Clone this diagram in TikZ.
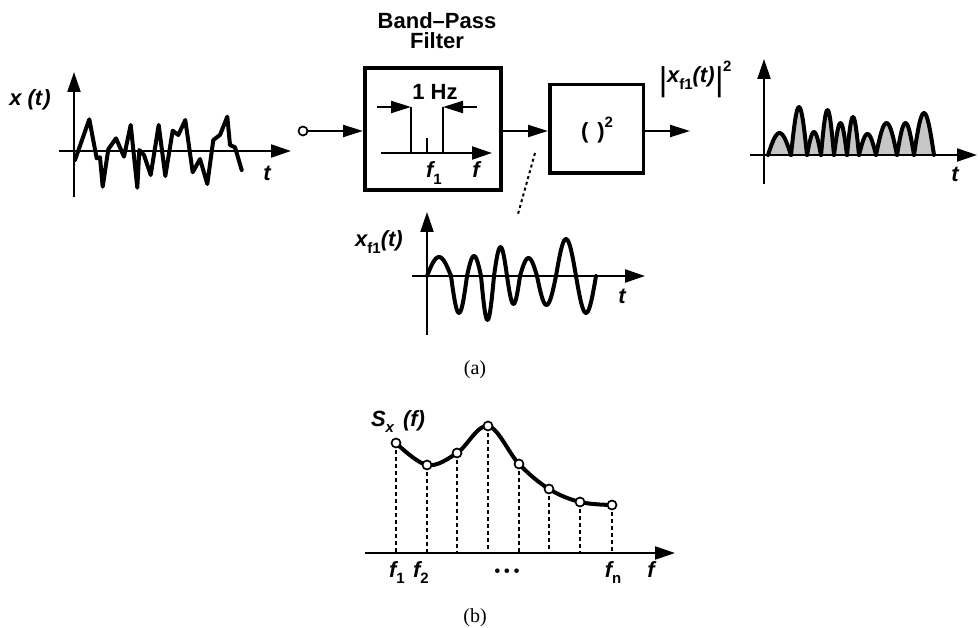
\documentclass[tikz,border=0pt]{standalone}
\usepackage{fontspec}
\setmainfont{Liberation Serif}
\setsansfont{Liberation Sans}
\usetikzlibrary{arrows.meta}
\newcommand\mysub[1]{\raisebox{-0.28em}{\fontsize{15}{15}\selectfont\upshape #1}}
\newcommand\mysup[1]{\raisebox{0.5em}{\fontsize{15}{15}\selectfont\upshape #1}}
\newcommand\mybar{\raisebox{-8pt}{\mdseries\fontsize{33}{33}\selectfont|}}
\begin{document}
\begin{tikzpicture}[x=1pt,y=-1pt,
  lbl/.style={font=\sffamily\bfseries\fontsize{22}{24}\selectfont, inner sep=0pt},
  ilbl/.style={inner sep=0pt, font=\sffamily\bfseries\itshape\fontsize{22}{24}\selectfont},
  capt/.style={font=\fontsize{20}{22}\selectfont, inner sep=0pt},
  wave/.style={line width=4pt, line join=round, line cap=round},
  axisline/.style={line width=2.2pt, -{Triangle[length=20pt,width=13pt]}},
  conn/.style={line width=2.2pt, -{Triangle[length=20pt,width=12pt]}},
  blk/.style={draw, inner sep=0pt},
  guide/.style={line width=1.7pt, dash pattern=on 4pt off 3pt},
  tap/.style={line width=2pt, dash pattern=on 3pt off 3pt},
  dot/.style={circle, draw, fill=white, line width=1.7pt, minimum size=9pt, inner sep=0pt}]
\useasboundingbox (0,0) rectangle (979,628);

% ---------- blocks ----------
\node[blk, line width=4pt, minimum width=136pt, minimum height=122pt] (bpf) at (433,129) {};
\node[blk, line width=3.5pt, minimum width=93.5pt, minimum height=88.5pt] (sq) at (596.5,129) {};
\node[lbl, align=center, anchor=north, font=\sffamily\bfseries\fontsize{22}{20}\selectfont] (title) at (437,12) {Band–Pass\\Filter};
\node[lbl, anchor=base] (sqtxt) at (597,139) {(\hspace{9pt})\mysup{2}};

\node[dot] (in) at (303,131) {};
\draw[conn] (in) -- (in -| bpf.west);
\draw[conn] (bpf.east |- in) -- (sq.west |- in);
\coordinate (outend) at (690,131);
\draw[conn] (sq.east |- in) -- (outend);
\node[ilbl, anchor=base] (outlbl) at (695,83) {\mybar x\mysub{f1}(t)\mybar\mysup{2}};

% filter inner sketch
\coordinate (la) at (377,107); \coordinate (lb) at (411,107);
\coordinate (ra) at (477,107); \coordinate (rb) at (443,107);
\coordinate (lbot) at (411,153); \coordinate (rbot) at (443,153);
\coordinate (tk0) at (427,138); \coordinate (tk1) at (427,153);
\coordinate (fa0) at (381,153); \coordinate (fa1) at (492,153);
\draw[conn] (la) -- (lb);
\draw[conn] (ra) -- (rb);
\draw[line width=2.2pt] (lb) -- (lbot) (rb) -- (rbot) (tk0) -- (tk1);
\draw[axisline] (fa0) -- (fa1);
\node[lbl] (hz) at (435,91.5) {1 Hz};
\node[ilbl, anchor=base] (f1a) at (434,178) {f\mysub{1}};
\node[ilbl, anchor=base] (fa) at (476,178) {f};

% tap dotted line
\coordinate (tapA) at (535,153); \coordinate (tapB) at (518,214);
\draw[tap] (tapA) -- (tapB);

% ---------- x(t) ----------
\coordinate (xv0) at (74,197); \coordinate (xv1) at (74,72);
\coordinate (xh0) at (59,151); \coordinate (xh1) at (291,151);
\draw[axisline] (xv0) -- (xv1);
\draw[axisline] (xh0) -- (xh1);
\draw[wave] plot coordinates {(75,160) (89.3,119.3) (96.7,158.3) (100,157.3) (102.7,186.7) (108.3,149.3) (116,138.3) (124,156.7) (130.7,125) (137.3,187.7) (139.3,150) (144,155) (150.7,175) (158.7,125) (165.3,176) (172.7,130.7) (178.3,135) (185.3,120) (192.7,172.3) (200,159) (207.3,184) (213.3,140) (220,135) (227.3,116.7) (230,145) (235,147.3) (241.7,170)};
\node[ilbl] (xlbl) at (30,100) {x\hspace{6pt}(t\hspace{1pt})};
\node[ilbl] (xt) at (267,173) {t};

% ---------- x_f1(t) ----------
\coordinate (mv0) at (427,335); \coordinate (mv1) at (427,212);
\coordinate (mh0) at (412,276); \coordinate (mh1) at (645,276);
\draw[axisline] (mv0) -- (mv1);
\draw[axisline] (mh0) -- (mh1);
\foreach \a/\b/\h in {427/451/19, 451/467/-37, 467/481/20, 481/494/-44, 494/507/29, 507/520/-28, 520/537/18, 537/556/-29, 556/576/37, 576/596/-37}
  \draw[wave] plot[domain=0:1, samples=18] ({\a+(\b-\a)*\x},{276-\h*sin(180*\x)});
\node[ilbl, anchor=base] (mlbl) at (379,247) {x\mysub{f1}(t)};
\node[ilbl, anchor=base] (mt) at (622,303) {t};

% ---------- |x_f1|^2 ----------
\coordinate (rv0) at (764,184); \coordinate (rv1) at (764,59);
\coordinate (rh0) at (750,155); \coordinate (rh1) at (977,155);
\foreach \a/\b/\h in {768/791/22, 791/807/48, 807/821/23, 821/834/45, 834/847/32, 847/859/38, 859/876/21, 876/897/32, 897/914/32, 914/934/42} {
  \fill[gray!45] plot[domain=0:1, samples=20] ({\a+(\b-\a)*\x},{155-\h*sin(180*\x)}) -- cycle;
  \draw[wave] plot[domain=0:1, samples=20] ({\a+(\b-\a)*\x},{155-\h*sin(180*\x)});
}
\draw[axisline] (rv0) -- (rv1);
\draw[axisline] (rh0) -- (rh1);
\node[ilbl, anchor=base] (rt) at (955,182) {t};

\node[capt] (capa) at (475,370) {(a)};

% ---------- (b) ----------
\coordinate (bh0) at (365,553); \coordinate (bh1) at (675,553);
\coordinate (c1) at (396,443); \coordinate (c2) at (427,465);
\coordinate (c3) at (457,453); \coordinate (c4) at (488,426);
\coordinate (c5) at (519,464); \coordinate (c6) at (549,489);
\coordinate (c7) at (580,502); \coordinate (c8) at (612,505);
\draw[wave] plot[smooth, tension=0.6] coordinates {(c1) (c2) (c3) (c4) (c5) (c6) (c7) (c8)};
\foreach \i in {1,...,8} \draw[guide] (c\i) -- (c\i |- bh0);
\draw[axisline] (bh0) -- (bh1);
\foreach \i in {1,...,8} \node[dot] (d\i) at (c\i) {};
\node[ilbl, anchor=base] (slbl) at (398,426) {S\mysub{\itshape x}\hspace{9pt}(f)};
\node[ilbl, anchor=base] (bf1) at (397,577) {f\mysub{1}};
\node[ilbl, anchor=base] (bf2) at (421,577) {f\mysub{2}};
\node[inner sep=0pt, font=\sffamily\bfseries\fontsize{16}{16}\selectfont] (bdots) at (507,573) {•\hspace{4pt}•\hspace{4pt}•};
\node[ilbl, anchor=base] (bfn) at (613,577) {f\mysub{n}};
\node[ilbl, anchor=base] (bf) at (651,577) {f};
\node[capt] (capb) at (475,618) {(b)};
\end{tikzpicture}
\end{document}
